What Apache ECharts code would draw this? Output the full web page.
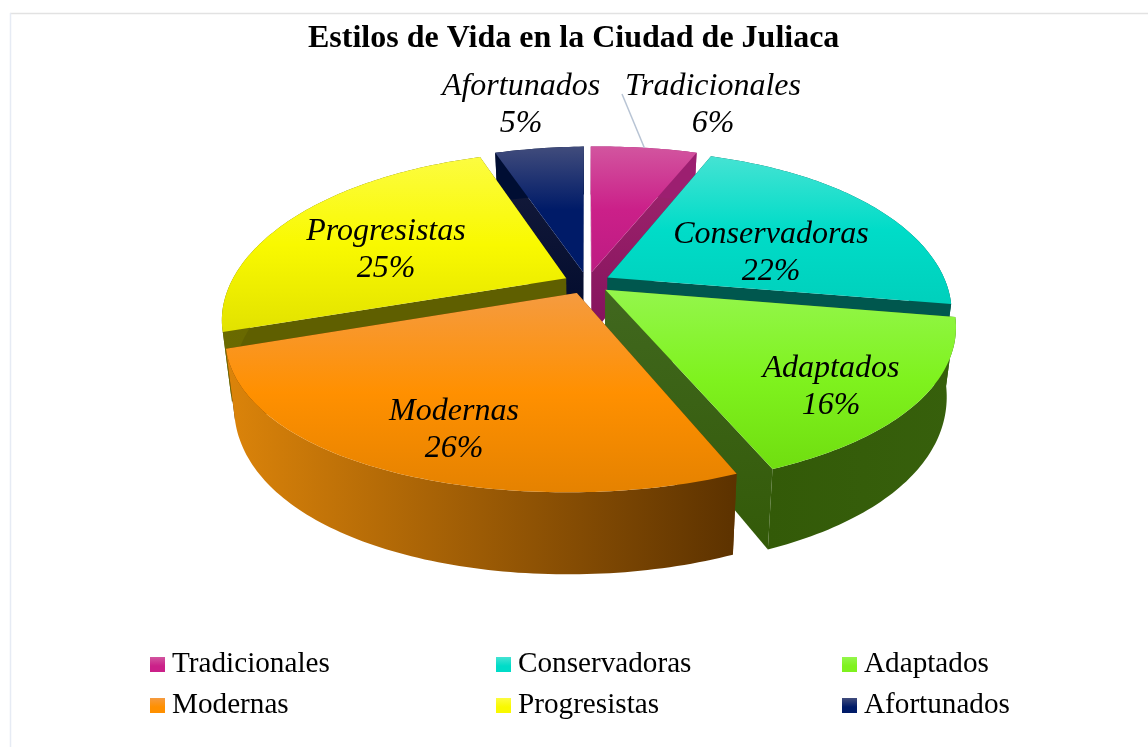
<!DOCTYPE html>
<html>
<head>
<meta charset="utf-8">
<title>Estilos de Vida en la Ciudad de Juliaca</title>
<script src="https://cdn.jsdelivr.net/npm/echarts@6/dist/echarts.min.js"></script>
<style>
  html, body { margin: 0; padding: 0; background: #fff; }
  #main { width: 1148px; height: 747px; }
</style>
</head>
<body>
<div id="main"></div>
<script>
// datos
var categories = ['Tradicionales', 'Conservadoras', 'Adaptados', 'Modernas', 'Progresistas', 'Afortunados'];
var values = [6, 22, 16, 26, 25, 5];

// colores: cara superior [claro, medio, bajo], paredes
var topColors = [
  ['#d2559f', '#cb2089', '#bd1b82'],
  ['#45e3d3', '#00dcc8', '#00d0bc'],
  ['#94f64c', '#7ff21e', '#70de10'],
  ['#f59b40', '#ff9000', '#e58200'],
  ['#fcfc40', '#f9f900', '#e2e200'],
  ['#414c7c', '#001b68', '#001b68']
];
var radialColors = [
  ['#a0266f', '#84125c'], ['#00574e', '#00574e'], ['#41681f', '#335a08'],
  ['#5f3400', '#5f3400'], ['#5f5f00', '#5f5f00'], ['#161c3c', '#000a2c']
];
var wallColors = [
  ['#9c1f70', '#9c1f70'], ['#00574e', '#00574e'], ['#335a08', '#37600c'],
  ['#dc840a', '#5c3200'], ['#6a6a00', '#5f5f00'], ['#000e33', '#000e33']
];
// centro de cada etiqueta en pantalla
var labelPos = [[713, 105], [771, 253], [831, 387], [454, 430], [386, 250], [521, 105]];
// orden de pintado, de atras hacia adelante
var paintOrder = [5, 0, 4, 1, 2, 3];

var CX = 587, CY = 283, R = 345, TILT = 0.449, PERSP = 0.2, EXPLODE = 0.07, SKEW = 3.5;

var total = values.reduce(function (a, b) { return a + b; }, 0);
var startAngle = [];
values.reduce(function (acc, v, i) { startAngle[i] = acc; return acc + v / total * 360; }, 0);

// plano del pastel -> pantalla
function project(u, v) {
  var w = 1 / (1 - PERSP * v);
  // ajuste fino del ancho segun la profundidad
  var wx = w * (0.9773 + 0.0139 * v + 0.0366 * v * v);
  return { x: CX + u * R * wx, y: CY + v * R * TILT * w - SKEW * u, v: v };
}
function lower(p) {
  return [CX + (p.x - CX) * 0.975, p.y + 65 + 16 * p.v];
}
function upper(p) { return [p.x, p.y]; }

function slicePoint(i, r, deg) {
  var mid = (startAngle[i] + values[i] / total * 180) * Math.PI / 180;
  var a = deg * Math.PI / 180;
  return project(EXPLODE * Math.sin(mid) + r * Math.sin(a), -EXPLODE * Math.cos(mid) - r * Math.cos(a));
}

function renderSlice(i) {
  var a0 = startAngle[i], a1 = a0 + values[i] / total * 360;
  var arc = [];
  var steps = Math.ceil(a1 - a0);
  for (var s = 0; s <= steps; s++) arc.push(slicePoint(i, 1, a0 + (a1 - a0) * s / steps));
  var apex = slicePoint(i, 0, a0);
  var first = arc[0], last = arc[arc.length - 1];
  var G = echarts.graphic.LinearGradient;

  var topFill = new G(0, 0, 0, 1, [
    { offset: 0, color: topColors[i][0] },
    { offset: 0.5, color: topColors[i][1] },
    { offset: 1, color: topColors[i][2] }
  ]);
  var wallFill = new G(0, 0, 1, 0, [
    { offset: 0, color: wallColors[i][0] },
    { offset: 1, color: wallColors[i][1] }
  ]);
  var radialFill = function () {
    return new G(0, 0, 0, 1, [
      { offset: 0, color: radialColors[i][0] },
      { offset: 1, color: radialColors[i][1] }
    ]);
  };
  var children = [
    { type: 'polygon', shape: { points: [upper(apex), upper(first), lower(first), lower(apex)] }, style: { fill: radialFill() } },
    { type: 'polygon', shape: { points: [upper(apex), upper(last), lower(last), lower(apex)] }, style: { fill: radialFill() } },
    { type: 'polygon', shape: { points: arc.map(upper).concat(arc.slice().reverse().map(lower)) }, style: { fill: wallFill } },
    { type: 'polygon', shape: { points: [upper(apex)].concat(arc.map(upper)) }, style: { fill: topFill } }
  ];
  // linea guia de Tradicionales
  if (i === 0) {
    var mid = slicePoint(i, 1, a0 + (a1 - a0) * 0.5);
    children.push({ type: 'line', shape: { x1: 622, y1: 94, x2: mid.x, y2: mid.y }, style: { stroke: '#b8c4d4', lineWidth: 1.5 } });
  }
  children.push({
    type: 'text',
    x: labelPos[i][0], y: labelPos[i][1],
    style: {
      text: categories[i] + '\n' + values[i] + '%',
      fontFamily: '"Liberation Serif"', fontStyle: 'italic', fontSize: 32, lineHeight: 37,
      fill: '#000', align: 'center', verticalAlign: 'middle'
    }
  });
  return { type: 'group', children: children };
}

var chart = echarts.init(document.getElementById('main'));

function legendColumn(names, left) {
  return {
    data: names.map(function (n) {
      var c = topColors[categories.indexOf(n)];
      return {
        name: n,
        itemStyle: { color: new echarts.graphic.LinearGradient(0, 0, 0, 1, [
          { offset: 0, color: c[0] }, { offset: 0.6, color: c[1] }, { offset: 1, color: c[1] }
        ]) }
      };
    }),
    orient: 'vertical', left: left, top: 650, padding: 0,
    icon: 'rect', itemWidth: 15, itemHeight: 15, itemGap: 12,
    selectedMode: false,
    textStyle: { fontFamily: '"Liberation Serif"', fontSize: 29.2, color: '#000', padding: [0, 0, 0, 2] }
  };
}

chart.setOption({
  animation: false,
  backgroundColor: '#fff',
  title: {
    text: 'Estilos de Vida en la Ciudad de Juliaca',
    left: 303, top: 18,
    textStyle: { fontFamily: '"Liberation Serif"', fontWeight: 'bold', fontSize: 32, color: '#000' }
  },
  tooltip: { show: false },
  legend: [
    legendColumn([categories[0], categories[3]], 150),
    legendColumn([categories[1], categories[4]], 496),
    legendColumn([categories[2], categories[5]], 842)
  ],
  // borde del area del grafico
  graphic: [
    { type: 'line', silent: true, shape: { x1: 10, y1: 13.5, x2: 1148, y2: 13.5 }, style: { stroke: '#e2e2e2', lineWidth: 1.5 } },
    { type: 'line', silent: true, shape: { x1: 10.5, y1: 13, x2: 10.5, y2: 747 }, style: { stroke: '#e6ebf4', lineWidth: 1.5 } }
  ],
  series: paintOrder.map(function (i) {
    return {
      type: 'custom',
      name: categories[i],
      coordinateSystem: 'none',
      silent: true,
      data: [values[i]],
      renderItem: function () { return renderSlice(i); }
    };
  })
});
</script>
</body>
</html>
